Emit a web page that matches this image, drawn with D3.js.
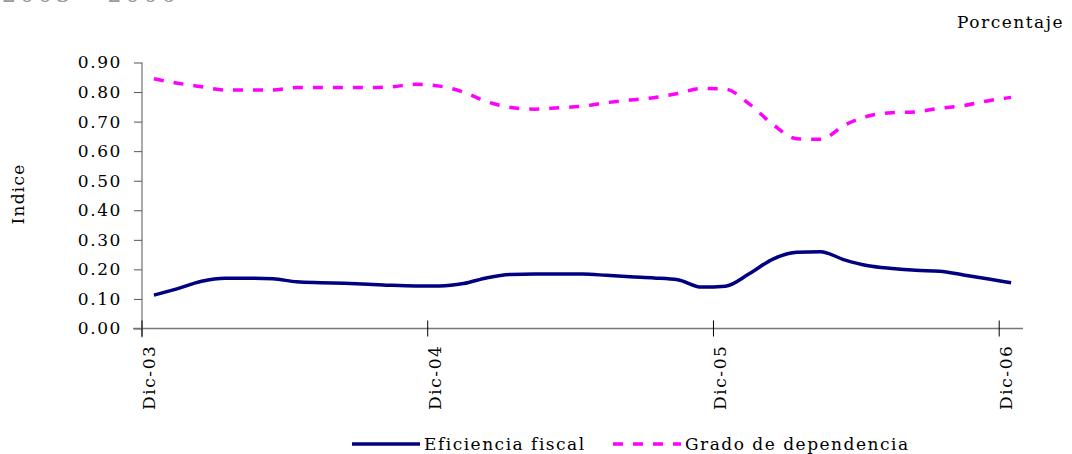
<!DOCTYPE html>
<html>
<head>
<meta charset="utf-8">
<script src="https://cdn.jsdelivr.net/npm/d3@7"></script>
<style>
  body { margin: 0; background: #fff; }
  text { font-family: "DejaVu Serif", serif; }
</style>
</head>
<body>
<div id="chart"></div>
<script>
// monthly categories, Dic-03 .. Dic-06
var meses = ["Dic-03","Ene-04","Feb-04","Mar-04","Abr-04","May-04","Jun-04","Jul-04","Ago-04","Sep-04","Oct-04","Nov-04",
             "Dic-04","Ene-05","Feb-05","Mar-05","Abr-05","May-05","Jun-05","Jul-05","Ago-05","Sep-05","Oct-05","Nov-05",
             "Dic-05","Ene-06","Feb-06","Mar-06","Abr-06","May-06","Jun-06","Jul-06","Ago-06","Sep-06","Oct-06","Nov-06",
             "Dic-06"];
var eficiencia = [0.113,0.135,0.160,0.170,0.170,0.168,0.158,0.155,0.153,0.150,0.146,0.144,
                  0.144,0.152,0.172,0.183,0.184,0.184,0.184,0.180,0.175,0.171,0.165,0.140,
                  0.143,0.185,0.235,0.258,0.260,0.232,0.212,0.203,0.197,0.194,0.181,0.168,
                  0.155];
var dependencia = [0.845,0.830,0.818,0.807,0.807,0.807,0.815,0.815,0.815,0.815,0.818,0.826,
                   0.820,0.800,0.767,0.748,0.742,0.747,0.752,0.764,0.773,0.781,0.795,0.812,
                   0.810,0.760,0.690,0.642,0.640,0.688,0.719,0.730,0.733,0.745,0.754,0.770,
                   0.782];
var yTicks = [0,0.1,0.2,0.3,0.4,0.5,0.6,0.7,0.8,0.9];
var xLabels = ["Dic-03","Dic-04","Dic-05","Dic-06"];
var series = [
  {name: "Eficiencia fiscal", values: eficiencia, color: "#000080", dash: null},
  {name: "Grado de dependencia", values: dependencia, color: "#ff00ff", dash: "10,10"}
];

var w = 1072, h = 454;
var svg = d3.select("#chart").append("svg")
            .attr("width", w).attr("height", h);

var pLeft = 142, pRight = 1023, pTop = 62.5, pBottom = 328.5;

var x = d3.scaleBand()
          .domain(meses)
          .range([pLeft, pRight]);
var y = d3.scaleLinear()
          .domain([0, 0.9])
          .range([pBottom, pTop]);

// cut-off title at the very top
svg.append("text")
   .attr("x", 2).attr("y", 1.5)
   .attr("font-size", 22)
   .attr("letter-spacing", 4)
   .style("fill", "#999")
   .text("2003 - 2006");

svg.append("text")
   .attr("x", 1064).attr("y", 28)
   .attr("text-anchor", "end")
   .attr("font-size", 17)
   .attr("letter-spacing", 1.5)
   .text("Porcentaje");

svg.append("text")
   .attr("transform", "translate(24,194) rotate(-90)")
   .attr("text-anchor", "middle")
   .attr("font-size", 17)
   .attr("letter-spacing", 1.2)
   .text("Indice");

// y axis
var yAxis = d3.axisLeft(y)
              .tickValues(yTicks)
              .tickSize(6)
              .tickFormat(d3.format(".2f"));
var gy = svg.append("g")
   .attr("transform", "translate(" + pLeft + ",0)")
   .call(yAxis);
gy.select(".domain").attr("stroke", "#555").attr("d", "M0," + pTop + "V" + (pBottom + 9));
gy.selectAll(".tick line").attr("stroke", "#555").attr("x1", -8).attr("x2", 0);
gy.selectAll(".tick text")
  .attr("x", -20)
  .attr("font-family", "DejaVu Serif")
  .attr("font-size", 17)
  .attr("letter-spacing", 1.6)
  .attr("fill", "#000");

// x axis: ticks on category boundaries every 12 months, labels at the category
var xAxis = d3.axisBottom(x)
              .tickValues(xLabels)
              .tickSize(0)
              .tickFormat(d => d);
var gx = svg.append("g")
   .attr("transform", "translate(0," + pBottom + ")")
   .call(xAxis);
gx.select(".domain").attr("stroke", "#777").attr("stroke-width", 1.3).attr("d", "M" + (pLeft - 9) + ",0H" + pRight);
gx.selectAll(".tick text")
  .attr("font-family", "DejaVu Serif")
  .attr("font-size", 17)
  .attr("letter-spacing", 1.6)
  .attr("fill", "#000")
  .attr("text-anchor", "end")
  .attr("transform", "translate(-5,0) rotate(-90)")
  .attr("x", -16)
  .attr("y", 0)
  .attr("dy", "0.35em");
svg.append("g")
   .selectAll("line")
   .data(xLabels)
   .enter().append("line")
   .attr("x1", d => x(d)).attr("x2", d => x(d))
   .attr("y1", pBottom - 8).attr("y2", pBottom + 8)
   .attr("stroke", "#000");

// lines
var line = d3.line()
             .x((d, i) => x(meses[i]) + x.bandwidth() / 2)
             .y(d => y(d))
             .curve(d3.curveMonotoneX);

svg.selectAll(".serie")
   .data(series)
   .enter().append("path")
   .attr("class", "serie")
   .attr("d", d => line(d.values))
   .attr("fill", "none")
   .attr("stroke", d => d.color)
   .attr("stroke-width", 3.5)
   .attr("stroke-dasharray", d => d.dash);

// legend
var legend = svg.append("g").attr("transform", "translate(352,444)");
var lx = [0, 261];
var item = legend.selectAll("g")
   .data(series)
   .enter().append("g")
   .attr("transform", (d, i) => "translate(" + lx[i] + ",0)");
item.append("line")
   .attr("x1", 0).attr("x2", 68)
   .attr("stroke", d => d.color)
   .attr("stroke-width", 3.5)
   .attr("stroke-dasharray", d => d.dash);
item.append("text")
   .attr("x", 72)
   .attr("dy", "0.35em")
   .attr("font-size", 17)
   .attr("letter-spacing", 1.5)
   .text(d => d.name);
</script>
</body>
</html>
